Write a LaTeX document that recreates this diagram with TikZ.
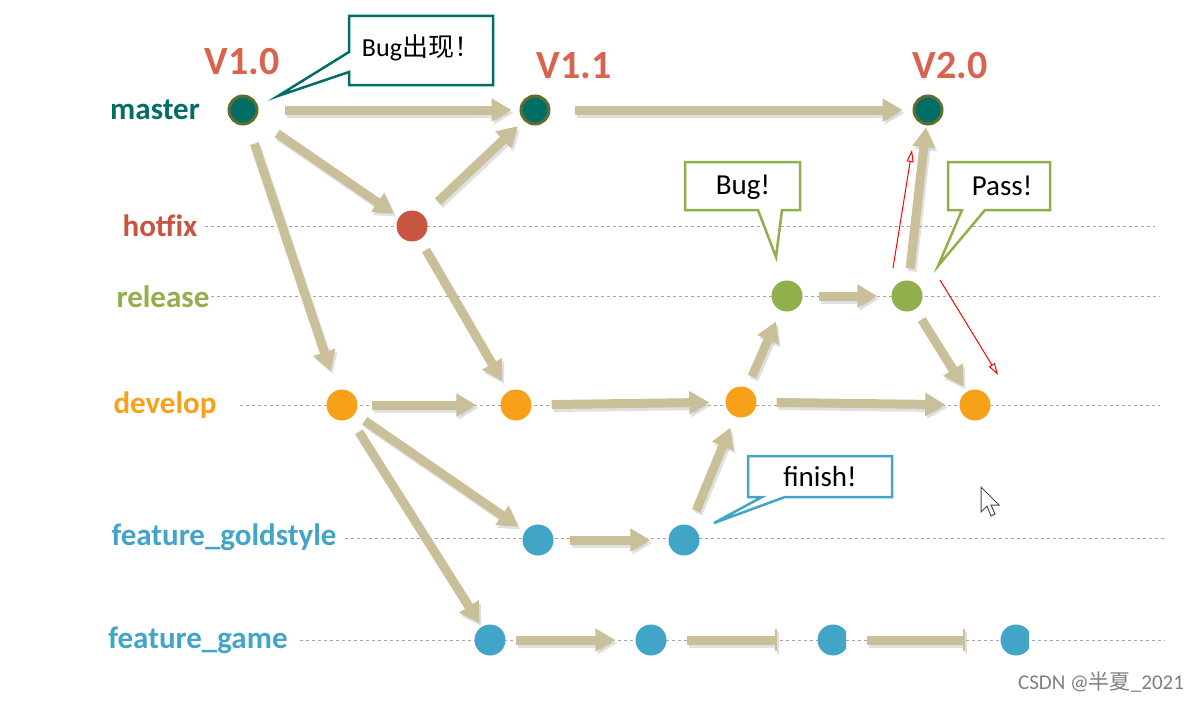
\documentclass[tikz,border=0pt]{standalone}
\usepackage{fontspec}
\setmainfont{Carlito}
\newfontfamily\cjk{Noto Sans CJK SC}
\usetikzlibrary{arrows.meta}
\definecolor{tan}{HTML}{C9BF98}
\definecolor{teal}{HTML}{006E66}
\definecolor{olive}{HTML}{5E6E30}
\definecolor{hot}{HTML}{C8553F}
\definecolor{rel}{HTML}{8FB04A}
\definecolor{dev}{HTML}{F7A11A}
\definecolor{feat}{HTML}{42A5C8}
\definecolor{ver}{HTML}{D9634F}
\begin{document}
\begin{tikzpicture}[x=1pt,y=-1pt,
  dot/.style={circle,minimum size=31pt,inner sep=0pt},
  mdot/.style={dot,fill=teal,draw=olive,line width=3pt,minimum size=28pt},
  lab/.style={font=\fontsize{31}{33}\selectfont\bfseries,anchor=center},
  verl/.style={font=\fontsize{40}{42}\selectfont\bfseries,text=ver},
  fat/.style={line width=9pt,draw=tan,-{Triangle[width=22pt,length=20pt]},
     preaction={draw=black!35,opacity=0.35,transform canvas={shift={(2pt,-3pt)}},line width=9pt,-{Triangle[width=22pt,length=20pt]}}},
  cut/.style={line width=9pt,draw=tan,-{Bar[width=22pt,line width=2.5pt]},
     preaction={draw=black!35,opacity=0.35,transform canvas={shift={(2pt,-3pt)}},line width=9pt}},
  dashl/.style={gray!70,dashed,line width=0.8pt},
  redarr/.style={draw=red,line width=1pt,-{Triangle[open,width=7pt,length=12pt]}},
  call/.style={fill=white,line width=2.5pt,line join=miter},
  ctext/.style={font=\fontsize{29}{31}\selectfont}]
\useasboundingbox (0,0) rectangle (1202,701);
% dashed lines
\draw[dashl] (205,226) -- (1155,226);
\draw[dashl] (205,296) -- (1160,296);
\draw[dashl] (240,405) -- (1160,405);
\draw[dashl] (345,538) -- (1165,538);
\draw[dashl] (300,640) -- (1165,640);
% labels
\node[lab,text=teal] (lm) at (155,110) {master};
\node[lab,text=hot] (lh) at (160,226) {hotfix};
\node[lab,text=rel] (lr) at (163,297) {release};
\node[lab,text=dev] (ld) at (165,405) {develop};
\node[lab,text=feat] (lg) at (224,537) {feature\_goldstyle};
\node[lab,text=feat] (lf) at (198,640) {feature\_game};
\node[verl] (v10) at (242,62) {V1.0};
\node[verl] (v11) at (574,66) {V1.1};
\node[verl] (v20) at (950,66) {V2.0};
% nodes
\node[mdot] (m1) at (243,110) {};
\node[mdot] (m2) at (535,110) {};
\node[mdot] (m3) at (928,110) {};
\node[dot,fill=hot] (h1) at (412,226) {};
\node[dot,fill=rel] (r1) at (787,296) {};
\node[dot,fill=rel] (r2) at (907,296) {};
\node[dot,fill=dev] (d1) at (342,405) {};
\node[dot,fill=dev] (d2) at (516,405) {};
\node[dot,fill=dev] (d3) at (741,402) {};
\node[dot,fill=dev] (d4) at (975,405) {};
\node[dot,fill=feat] (g1) at (538,540) {};
\node[dot,fill=feat] (g2) at (684,540) {};
\node[dot,fill=feat] (f1) at (490,640) {};
\node[dot,fill=feat] (f2) at (651,640) {};
\begin{scope}
\clip (800,600) rectangle (846,680);
\node[dot,fill=feat] (f3) at (833,640) {};
\end{scope}
\begin{scope}
\clip (980,600) rectangle (1029,680);
\node[dot,fill=feat] (f4) at (1016,640) {};
\end{scope}
% arrows
\draw[fat,shorten <=26pt,shorten >=8pt] (m1) -- (m2);
\draw[fat,shorten <=24pt,shorten >=10pt] (m2) -- (m3);
\draw[fat,shorten <=20pt,shorten >=20pt] (m1) -- (d1);
\draw[fat,shorten <=26pt,shorten >=6pt] (m1) -- (h1);
\draw[fat,shorten <=20pt,shorten >=8pt] (h1) -- (m2);
\draw[fat,shorten <=12pt,shorten >=12pt] (h1) -- (d2);
\draw[fat,shorten <=14pt,shorten >=24pt] (d1) -- (d2);
\draw[fat,shorten <=20pt,shorten >=16pt] (d2) -- (d3);
\draw[fat,shorten <=20pt,shorten >=14pt] (d3) -- (d4);
\draw[fat,shorten <=12pt,shorten >=8pt] (d1) -- (g1);
\draw[fat,shorten <=16pt,shorten >=4pt] (d1) -- (f1);
\draw[fat,shorten <=16pt,shorten >=18pt] (g1) -- (g2);
\draw[fat,shorten <=16pt,shorten >=12pt] (g2) -- (d3);
\draw[fat,shorten <=12pt,shorten >=12pt] (d3) -- (r1);
\draw[fat,shorten <=16pt,shorten >=14pt] (r1) -- (r2);
\draw[fat,shorten <=12pt,shorten >=2pt] (r2) -- (m3);
\draw[fat,shorten <=12pt,shorten >=6pt] (r2) -- (d4);
\draw[fat,shorten <=10pt,shorten >=20pt] (f1) -- (f2);
\draw[cut,shorten <=20pt,shorten >=40pt] (f2) -- (f3);
\draw[cut,shorten <=18pt,shorten >=35pt] (f3) -- (f4);
% red arrows
\coordinate (ra1) at (893,268); \coordinate (rb1) at (912,150);
\coordinate (ra2) at (940,280); \coordinate (rb2) at (998,375);
\draw[redarr] (ra1) -- (rb1);
\draw[redarr] (ra2) -- (rb2);
% callouts
\draw[call,draw=teal] (349,16) -- (493,16) -- (493,85) -- (349,85) -- (349,72) -- (278,96) -- (349,52) -- cycle;
\node[ctext,font=\fontsize{26}{28}\selectfont] (c1) at (421,48) {Bug{\cjk 出现！}};
\draw[call,draw=rel] (685,162) -- (800,162) -- (800,210) -- (782,210) -- (776,257) -- (758,210) -- (685,210) -- cycle;
\node[ctext] (c2) at (743,187) {Bug!};
\draw[call,draw=rel] (948,162) -- (1050,162) -- (1050,210) -- (985,210) -- (938,266) -- (962,210) -- (948,210) -- cycle;
\node[ctext] (c3) at (1002,186) {Pass!};
\draw[call,draw=feat] (748,456) -- (892,456) -- (892,497) -- (785,497) -- (714,523) -- (762,497) -- (748,497) -- cycle;
\node[ctext] (c4) at (820,477) {finish!};
% cursor
\draw[fill=white,draw=gray!60!black,line width=1pt] (981,487) -- (981,512) -- (987,506) -- (991,516) -- (995,514) -- (991,505) -- (999,505) -- cycle;
\node[text=gray,font=\fontsize{21}{22}\selectfont] (wm) at (1101,682) {CSDN @{\cjk 半夏}\_2021};
\end{tikzpicture}
\end{document}
